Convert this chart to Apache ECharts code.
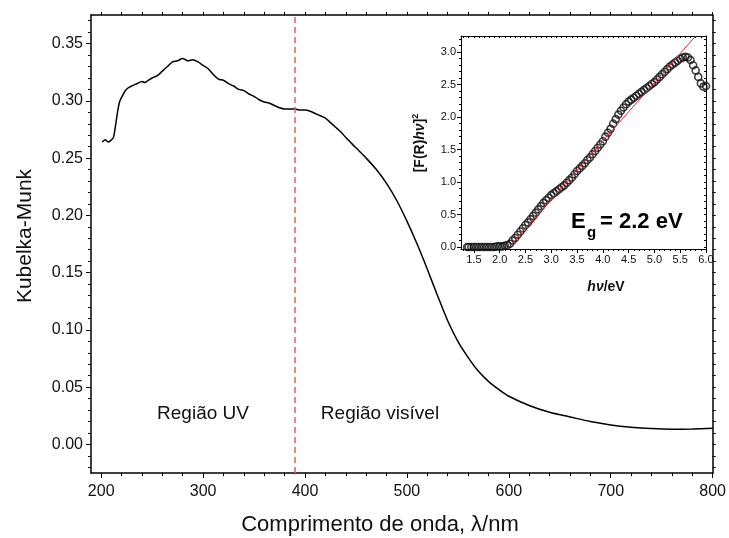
<!DOCTYPE html>
<html>
<head>
<meta charset="utf-8">
<script src="https://cdn.jsdelivr.net/npm/echarts@6/dist/echarts.min.js"></script>
<style>
html,body{margin:0;padding:0;background:#fff;}
#c{width:729px;height:538px;}
</style>
</head>
<body>
<div id="c"></div>
<script>
// ---- main spectrum (wavelength nm, Kubelka-Munk) ----
var wavelength = [201,204,207,210,212,214,216,218,220,223,226,230,235,240,243,246,250,255,260,265,270,275,280,285,290,295,300,305,310,315,320,325,330,335,340,345,350,355,360,365,370,375,380,385,390,395,400,405,410,415,420,425,430,435,440,450,460,470,480,490,500,510,520,530,540,550,560,570,580,590,600,620,640,660,680,700,720,740,760,780,800];
var kubelka = [0.264,0.266,0.264,0.266,0.268,0.278,0.290,0.299,0.303,0.308,0.311,0.313,0.315,0.317,0.316,0.318,0.320,0.322,0.326,0.330,0.334,0.335,0.337,0.335,0.336,0.334,0.331,0.328,0.323,0.319,0.318,0.315,0.313,0.310,0.309,0.306,0.304,0.301,0.299,0.298,0.296,0.294,0.293,0.293,0.293,0.292,0.292,0.291,0.289,0.287,0.285,0.281,0.277,0.273,0.268,0.259,0.250,0.240,0.228,0.213,0.195,0.175,0.153,0.130,0.108,0.090,0.076,0.064,0.055,0.048,0.042,0.034,0.028,0.024,0.020,0.017,0.015,0.0138,0.0133,0.0135,0.014];
var boundary = 390;

// ---- inset Tauc plot (hv eV, [F(R)hv]^2) ----
var photonEnergy = [1.37,1.40,1.45,1.50,1.55,1.60,1.65,1.70,1.75,1.80,1.85,1.90,1.95,2.00,2.05,2.10,2.15,2.20,2.25,2.30,2.35,2.40,2.45,2.50,2.55,2.60,2.65,2.70,2.75,2.80,2.85,2.90,2.95,3.00,3.05,3.10,3.15,3.20,3.25,3.30,3.35,3.40,3.45,3.50,3.55,3.60,3.65,3.70,3.75,3.80,3.85,3.90,3.95,4.00,4.05,4.10,4.15,4.20,4.25,4.30,4.35,4.40,4.45,4.50,4.55,4.60,4.65,4.70,4.75,4.80,4.85,4.90,4.95,5.00,5.05,5.10,5.15,5.20,5.25,5.30,5.35,5.40,5.45,5.50,5.55,5.60,5.65,5.70,5.75,5.80,5.85,5.90,5.95,6.00];
var taucValue = [0.00,0.00,0.00,0.00,0.00,0.00,0.00,0.00,0.00,0.00,0.00,0.00,0.01,0.01,0.01,0.02,0.03,0.05,0.10,0.14,0.19,0.24,0.29,0.34,0.38,0.43,0.48,0.53,0.58,0.63,0.68,0.72,0.76,0.80,0.83,0.86,0.89,0.92,0.95,0.99,1.03,1.07,1.12,1.17,1.21,1.25,1.29,1.34,1.38,1.43,1.48,1.53,1.58,1.63,1.70,1.76,1.82,1.90,1.97,2.04,2.10,2.15,2.20,2.24,2.27,2.30,2.33,2.36,2.39,2.42,2.45,2.48,2.51,2.54,2.58,2.62,2.66,2.70,2.74,2.78,2.81,2.84,2.87,2.90,2.92,2.93,2.92,2.88,2.80,2.72,2.62,2.52,2.47,2.48];
var fitX = [2.15, 5.80];
var fitY = [-0.03, 3.25];

// ---- tick labels ----
var mainXTicks = [200,300,400,500,600,700,800];
var mainXMinor = [];
for (var v = 200; v <= 800; v += 20) mainXMinor.push(v);
var mainYTicks = [0,0.05,0.10,0.15,0.20,0.25,0.30,0.35];
var mainYMinor = [];
for (var k = -2; k <= 37; k++) mainYMinor.push(+(k*0.01).toFixed(2));
var insetXTicks = [1.5,2.0,2.5,3.0,3.5,4.0,4.5,5.0,5.5,6.0];
var insetXMinor = [];
for (var k2 = 13; k2 <= 60; k2++) insetXMinor.push(+(k2*0.1).toFixed(1));
var insetYTicks = [0,0.5,1.0,1.5,2.0,2.5,3.0];
var insetYMinor = [];
for (var k3 = 0; k3 <= 32; k3++) insetYMinor.push(+(k3*0.1).toFixed(1));

var FONT = '"Liberation Sans", Arial, sans-serif';
function zip(a,b){var r=[];for(var i=0;i<a.length;i++)r.push([a[i],b[i]]);return r;}

function mkAxis(o){
  return {
    type:'value', gridIndex:o.grid, position:o.pos, min:o.min, max:o.max,
    axisLine:{show:o.line!==false, onZero:false, lineStyle:{color:'#000', width:o.lw||1.3}},
    axisTick:{show:true, inside:!!o.inside, length:o.len, customValues:o.ticks, lineStyle:{color:'#000', width:1}},
    axisLabel:{show:!!o.labels, customValues:o.labels, margin:o.margin||6, color:'#111', fontSize:o.fs||14, fontFamily:FONT, formatter:o.fmt},
    splitLine:{show:false}, minorTick:{show:false}
  };
}

var chart = echarts.init(document.getElementById('c'), null, {renderer:'canvas'});
var option = {
  animation:false,
  backgroundColor:'#fff',
  grid:[
    {left:91, top:15, width:625, height:458, show:false},
    {left:461, top:36, width:245, height:213, show:true, backgroundColor:'#fff', borderWidth:0}
  ],
  xAxis:[
    mkAxis({grid:0,pos:'bottom',min:190,max:800,ticks:mainXTicks,len:5,labels:mainXTicks,fs:16,margin:11,lw:1.5,fmt:function(v){return String(v);}}),
    mkAxis({grid:0,pos:'bottom',min:190,max:800,ticks:mainXMinor,len:3,line:false}),
    mkAxis({grid:0,pos:'top',min:190,max:800,ticks:mainXMinor,len:3,lw:1.5}),
    mkAxis({grid:1,pos:'bottom',min:1.25,max:6.0,ticks:insetXTicks,len:4,labels:insetXTicks,fs:11,margin:5,lw:1,fmt:function(v){return v.toFixed(1);}}),
    mkAxis({grid:1,pos:'bottom',min:1.25,max:6.0,ticks:insetXMinor,len:2,line:false}),
    mkAxis({grid:1,pos:'top',min:1.25,max:6.0,ticks:insetXMinor,len:2,lw:1,inside:true})
  ],
  yAxis:[
    mkAxis({grid:0,pos:'left',min:-0.025,max:0.375,ticks:mainYTicks,len:5,labels:mainYTicks,fs:16,margin:8,lw:1.5,fmt:function(v){return v.toFixed(2);}}),
    mkAxis({grid:0,pos:'left',min:-0.025,max:0.375,ticks:mainYMinor,len:3,line:false}),
    mkAxis({grid:0,pos:'right',min:-0.025,max:0.375,ticks:mainYMinor,len:3,lw:1.5}),
    mkAxis({grid:1,pos:'left',min:-0.03,max:3.25,ticks:insetYTicks,len:4,labels:insetYTicks,fs:11,margin:5,lw:1,fmt:function(v){return v.toFixed(1);}}),
    mkAxis({grid:1,pos:'left',min:-0.03,max:3.25,ticks:insetYMinor,len:2,line:false}),
    mkAxis({grid:1,pos:'right',min:-0.03,max:3.25,ticks:insetYMinor,len:2,lw:1,inside:true})
  ],
  series:[
    {
      type:'line', xAxisIndex:0, yAxisIndex:0, data:zip(wavelength,kubelka),
      showSymbol:false, smooth:0.3, lineStyle:{color:'#000', width:1.5}, z:3,
      markLine:{
        silent:true, symbol:['none','none'], label:{show:false},
        lineStyle:{color:'#f05a5a', type:[6,4], width:1.5},
        data:[{xAxis:boundary}]
      }
    },
    {
      type:'scatter', xAxisIndex:3, yAxisIndex:3, data:zip(photonEnergy,taucValue),
      symbol:'circle', symbolSize:7, clip:true, z:5,
      itemStyle:{color:'rgba(255,255,255,0)', borderColor:'#111', borderWidth:1.6}
    },
    {
      type:'line', xAxisIndex:3, yAxisIndex:3, data:zip(fitX,fitY),
      showSymbol:false, clip:true, z:6, lineStyle:{color:'#e8262a', width:1}
    }
  ],
  graphic:[
    {type:'text', x:25, y:236, rotation:Math.PI/2, style:{text:'Kubelka-Munk', font:'21px '+FONT, fill:'#111', align:'center', verticalAlign:'middle'}},
    {type:'text', x:380, y:525, style:{text:'Comprimento de onda, \u03bb/nm', font:'22px '+FONT, fill:'#111', align:'center', verticalAlign:'middle'}},
    {type:'text', x:203, y:414, style:{text:'Regi\u00e3o UV', font:'19px '+FONT, fill:'#111', align:'center', verticalAlign:'middle'}},
    {type:'text', x:380, y:414, style:{text:'Regi\u00e3o vis\u00edvel', font:'19px '+FONT, fill:'#111', align:'center', verticalAlign:'middle'}},
    {type:'text', x:420, y:143, rotation:Math.PI/2, style:{text:'[F(R){i|h\u03bd}]{s|2}', font:'bold 14px '+FONT, fill:'#111', align:'center', verticalAlign:'middle',
      rich:{i:{font:'italic bold 14px '+FONT, fill:'#111'}, s:{font:'bold 9px '+FONT, fill:'#111', padding:[0,0,9,0]}}}},
    {type:'text', x:606, y:287, style:{text:'{i|h\u03bd}/eV', font:'bold 14px '+FONT, fill:'#111', align:'center', verticalAlign:'middle',
      rich:{i:{font:'italic bold 14px '+FONT, fill:'#111'}}}},
    {type:'text', x:571, y:222, style:{text:'E', font:'bold 22px '+FONT, fill:'#000', align:'left', verticalAlign:'middle'}},
    {type:'text', x:587, y:233, style:{text:'g', font:'bold 15px '+FONT, fill:'#000', align:'left', verticalAlign:'middle'}},
    {type:'text', x:600, y:222, style:{text:'= 2.2 eV', font:'bold 22px '+FONT, fill:'#000', align:'left', verticalAlign:'middle'}}
  ]
};
chart.setOption(option);
</script>
</body>
</html>
